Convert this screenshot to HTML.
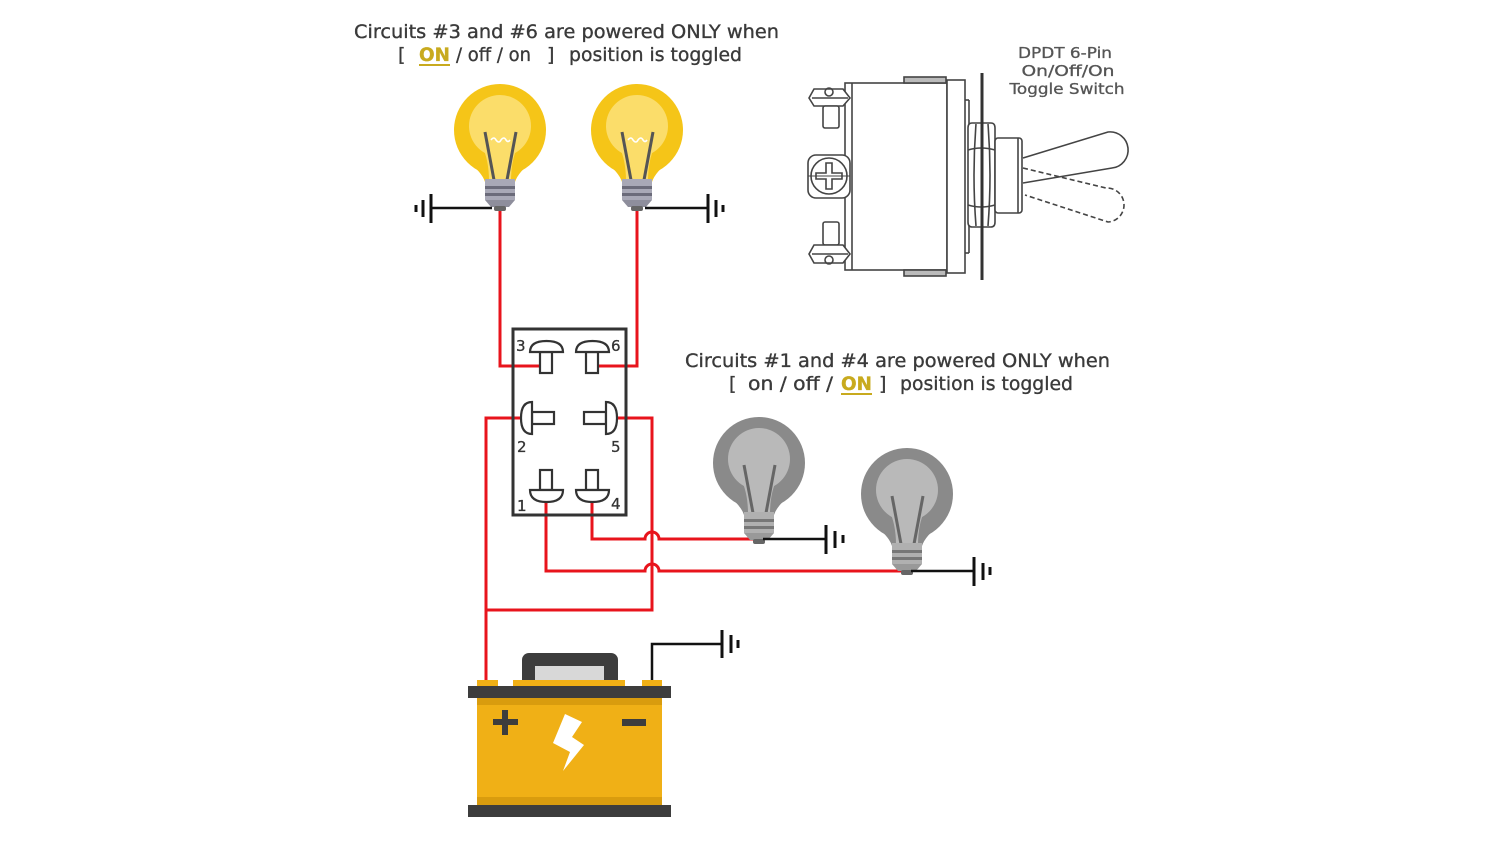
<!DOCTYPE html>
<html>
<head>
<meta charset="utf-8">
<style>
html,body{margin:0;padding:0;background:#fff;}
svg{display:block;}
text{font-family:"DejaVu Sans","Liberation Sans",sans-serif;}
</style>
</head>
<body>
<svg width="1508" height="855" viewBox="0 0 1508 855" xmlns="http://www.w3.org/2000/svg">
<rect width="1508" height="855" fill="#fff"/>

<!-- Top text -->
<g fill="#3a3a3a" stroke="#3a3a3a" stroke-width="0.35" font-size="19">
  <text x="354" y="38" textLength="425" lengthAdjust="spacingAndGlyphs">Circuits #3 and #6 are powered ONLY when</text>
  <text x="398" y="61">[</text>
  <text x="419" y="61" fill="#c8aa1e" stroke="#c8aa1e" font-weight="bold" textLength="31" lengthAdjust="spacingAndGlyphs">ON</text>
  <text x="456" y="61" textLength="75" lengthAdjust="spacingAndGlyphs">/ off / on</text>
  <text x="547" y="61">]</text>
  <text x="569" y="61" textLength="173" lengthAdjust="spacingAndGlyphs">position is toggled</text>
</g>
<line x1="419" y1="65" x2="450" y2="65" stroke="#c8aa1e" stroke-width="2"/>

<!-- Middle text -->
<g fill="#3a3a3a" stroke="#3a3a3a" stroke-width="0.35" font-size="19">
  <text x="685" y="367" textLength="425" lengthAdjust="spacingAndGlyphs">Circuits #1 and #4 are powered ONLY when</text>
  <text x="729" y="390">[</text>
  <text x="748" y="390" textLength="85" lengthAdjust="spacingAndGlyphs">on / off /</text>
  <text x="841" y="390" fill="#c8aa1e" stroke="#c8aa1e" font-weight="bold" textLength="31" lengthAdjust="spacingAndGlyphs">ON</text>
  <text x="879" y="390">]</text>
  <text x="900" y="390" textLength="173" lengthAdjust="spacingAndGlyphs">position is toggled</text>
</g>
<line x1="841" y1="394" x2="872" y2="394" stroke="#c8aa1e" stroke-width="2"/>

<!-- Switch label -->
<g fill="#555" stroke="#555" stroke-width="0.3" font-size="15" text-anchor="middle">
  <text x="1065" y="58" textLength="94" lengthAdjust="spacingAndGlyphs">DPDT 6-Pin</text>
  <text x="1068" y="76" textLength="93" lengthAdjust="spacingAndGlyphs">On/Off/On</text>
  <text x="1067" y="94" textLength="115" lengthAdjust="spacingAndGlyphs">Toggle Switch</text>
</g>

<!-- Toggle switch drawing -->
<g stroke="#444" stroke-width="1.6" fill="none">
  <rect x="845" y="83" width="102" height="187" fill="#fff"/>
  <line x1="852" y1="83" x2="852" y2="270"/>
  <rect x="904" y="77" width="42" height="6" fill="#bbb"/>
  <rect x="904" y="270" width="42" height="6" fill="#bbb"/>
  <rect x="947" y="80" width="18" height="193" fill="#fff"/>
  <line x1="965" y1="100" x2="969" y2="100"/>
  <line x1="969" y1="100" x2="969" y2="253"/>
  <line x1="965" y1="253" x2="969" y2="253"/>
  <!-- nut -->
  <path d="M972 123 H991 Q995 123 995 128 V222 Q995 227 991 227 H972 Q968 227 968 222 V128 Q968 123 972 123 Z" fill="#fff"/>
  <path d="M968 150 Q981 146 995 150"/>
  <path d="M968 205 Q981 209 995 205"/>
  <path d="M976 124 Q972 175 976 226"/>
  <path d="M988 124 Q992 175 988 226"/>
  <!-- panel -->
  <line x1="982" y1="73" x2="982" y2="280" stroke-width="3" stroke="#333"/>
  <!-- bushing -->
  <rect x="995" y="138" width="27" height="75" rx="3" fill="#fff"/>
  <line x1="1018" y1="138" x2="1018" y2="213"/>
  <!-- lever -->
  <path d="M1023 158 L1108 132 A18 18 0 0 1 1112 168 L1023 183"/>
  <path d="M1023 168 L1106 188 A17 17 0 0 1 1108 222 L1025 195" stroke-dasharray="5 3"/>
  <!-- top screw -->
  <path d="M809 98 L814 89 H843 L850 98 L843 106 H814 Z" fill="#fff"/>
  <circle cx="829" cy="92" r="4"/>
  <line x1="812" y1="98" x2="848" y2="98"/>
  <rect x="823" y="106" width="16" height="22" rx="2" fill="#fff"/>
  <!-- middle screw -->
  <rect x="808" y="155" width="42" height="43" rx="8" fill="#fff"/>
  <circle cx="829" cy="176" r="18"/>
  <path d="M826 163 H832 V173 H842 V179 H832 V189 H826 V179 H816 V173 H826 Z"/>
  <line x1="808" y1="176" x2="850" y2="176" stroke-width="1"/>
  <!-- bottom screw -->
  <rect x="823" y="222" width="16" height="23" rx="2" fill="#fff"/>
  <path d="M809 254 L814 245 H843 L850 254 L843 263 H814 Z" fill="#fff"/>
  <circle cx="829" cy="260" r="4"/>
  <line x1="812" y1="254" x2="848" y2="254"/>
</g>

<!-- Red wires -->
<g stroke="#e8141c" stroke-width="3" fill="none">
  <path d="M500 210 V366 H542"/>
  <path d="M637 210 V366 H596"/>
  <path d="M524 418 H486 V684"/>
  <path d="M612 418 H652 V610 H486"/>
  <path d="M592 497 V539 H645 A7 7 0 0 1 659 539 H756"/>
  <path d="M546 497 V571 H645 A7 7 0 0 1 659 571 H904"/>
</g>

<!-- Switch schematic box -->
<rect x="513" y="329" width="113" height="186" fill="none" stroke="#333" stroke-width="3"/>
<g stroke="#333" stroke-width="2.2" fill="#fff">
  <rect x="540" y="352" width="12" height="21"/>
  <path d="M530 352 Q530 341 546.5 341 Q563 341 563 352 Z"/>
  <rect x="586" y="352" width="12" height="21"/>
  <path d="M576 352 Q576 341 592.5 341 Q609 341 609 352 Z"/>
  <rect x="532" y="412" width="22" height="12"/>
  <path d="M532 402 Q521 402 521 418 Q521 434 532 434 Z"/>
  <rect x="584" y="412" width="22" height="12"/>
  <path d="M606 402 Q617 402 617 418 Q617 434 606 434 Z"/>
  <rect x="540" y="470" width="12" height="20"/>
  <path d="M530 490 H563 Q563 502 546.5 502 Q530 502 530 490 Z"/>
  <rect x="586" y="470" width="12" height="20"/>
  <path d="M576 490 H609 Q609 502 592.5 502 Q576 502 576 490 Z"/>
</g>
<g fill="#333" stroke="#333" stroke-width="0.3" font-size="15">
  <text x="516" y="351">3</text>
  <text x="611" y="351">6</text>
  <text x="517" y="452">2</text>
  <text x="611" y="452">5</text>
  <text x="517" y="511">1</text>
  <text x="611" y="509">4</text>
</g>

<!-- Yellow bulbs -->
<g>
  <circle cx="500" cy="130" r="46" fill="#f5c518"/>
  <path d="M466 160 Q482 172 485 182 H515 Q518 172 534 160 Z" fill="#f5c518"/>
  <circle cx="500" cy="126" r="31" fill="#fbdd6a"/>
  <path d="M482 146 Q489 160 489 181 H511 Q511 160 518 146 Z" fill="#fbdd6a"/>
  <line x1="485" y1="132" x2="494" y2="180" stroke="#555" stroke-width="3"/>
  <line x1="516" y1="132" x2="507" y2="180" stroke="#555" stroke-width="3"/>
  <path d="M491 140 q3 -4 5 0 q3 4 5 0 q3 -4 5 0 q2 3 4 0" stroke="#fff" stroke-width="1.6" fill="none"/>
  <rect x="485" y="179" width="30" height="21" fill="#a8a8b6"/>
  <rect x="485" y="186" width="30" height="3" fill="#6b6b7a"/>
  <rect x="485" y="193" width="30" height="3" fill="#6b6b7a"/>
  <polygon points="485,200 515,200 509,207 491,207" fill="#8e8e9c"/>
  <rect x="494" y="206" width="12" height="5" rx="2" fill="#666"/>
</g>
<g>
  <circle cx="637" cy="130" r="46" fill="#f5c518"/>
  <path d="M603 160 Q619 172 622 182 H652 Q655 172 671 160 Z" fill="#f5c518"/>
  <circle cx="637" cy="126" r="31" fill="#fbdd6a"/>
  <path d="M619 146 Q626 160 626 181 H648 Q648 160 655 146 Z" fill="#fbdd6a"/>
  <line x1="622" y1="132" x2="631" y2="180" stroke="#555" stroke-width="3"/>
  <line x1="653" y1="132" x2="644" y2="180" stroke="#555" stroke-width="3"/>
  <path d="M628 140 q3 -4 5 0 q3 4 5 0 q3 -4 5 0 q2 3 4 0" stroke="#fff" stroke-width="1.6" fill="none"/>
  <rect x="622" y="179" width="30" height="21" fill="#a8a8b6"/>
  <rect x="622" y="186" width="30" height="3" fill="#6b6b7a"/>
  <rect x="622" y="193" width="30" height="3" fill="#6b6b7a"/>
  <polygon points="622,200 652,200 646,207 628,207" fill="#8e8e9c"/>
  <rect x="631" y="206" width="12" height="5" rx="2" fill="#666"/>
</g>

<!-- Gray bulbs -->
<g>
  <circle cx="759" cy="463" r="46" fill="#8a8a8a"/>
  <path d="M725 493 Q741 505 744 515 H774 Q777 505 793 493 Z" fill="#8a8a8a"/>
  <circle cx="759" cy="459" r="31" fill="#b9b9b9"/>
  <path d="M741 479 Q748 493 748 514 H770 Q770 493 777 479 Z" fill="#b9b9b9"/>
  <line x1="744" y1="465" x2="753" y2="513" stroke="#666" stroke-width="3"/>
  <line x1="775" y1="465" x2="766" y2="513" stroke="#666" stroke-width="3"/>
  <rect x="744" y="512" width="30" height="21" fill="#b0b0b0"/>
  <rect x="744" y="519" width="30" height="3" fill="#777"/>
  <rect x="744" y="526" width="30" height="3" fill="#777"/>
  <polygon points="744,533 774,533 768,540 750,540" fill="#999"/>
  <rect x="753" y="539" width="12" height="5" rx="2" fill="#666"/>
</g>
<g>
  <circle cx="907" cy="494" r="46" fill="#8a8a8a"/>
  <path d="M873 524 Q889 536 892 546 H922 Q925 536 941 524 Z" fill="#8a8a8a"/>
  <circle cx="907" cy="490" r="31" fill="#b9b9b9"/>
  <path d="M889 510 Q896 524 896 545 H918 Q918 524 925 510 Z" fill="#b9b9b9"/>
  <line x1="892" y1="496" x2="901" y2="544" stroke="#666" stroke-width="3"/>
  <line x1="923" y1="496" x2="914" y2="544" stroke="#666" stroke-width="3"/>
  <rect x="892" y="543" width="30" height="21" fill="#b0b0b0"/>
  <rect x="892" y="550" width="30" height="3" fill="#777"/>
  <rect x="892" y="557" width="30" height="3" fill="#777"/>
  <polygon points="892,564 922,564 916,571 898,571" fill="#999"/>
  <rect x="901" y="570" width="12" height="5" rx="2" fill="#666"/>
</g>

<!-- Ground symbols -->
<g stroke="#111" fill="none">
  <line x1="431" y1="208" x2="492" y2="208" stroke-width="2.5"/>
  <line x1="431" y1="194" x2="431" y2="223" stroke-width="3"/>
  <line x1="423" y1="200" x2="423" y2="217" stroke-width="3"/>
  <line x1="416" y1="205" x2="416" y2="212" stroke-width="3"/>
  <line x1="645" y1="208" x2="708" y2="208" stroke-width="2.5"/>
  <line x1="708" y1="194" x2="708" y2="223" stroke-width="3"/>
  <line x1="716" y1="200" x2="716" y2="217" stroke-width="3"/>
  <line x1="723" y1="205" x2="723" y2="212" stroke-width="3"/>
  <line x1="763" y1="539" x2="826" y2="539" stroke-width="2.5"/>
  <line x1="826" y1="525" x2="826" y2="554" stroke-width="3"/>
  <line x1="835" y1="531" x2="835" y2="548" stroke-width="3"/>
  <line x1="843" y1="535" x2="843" y2="543" stroke-width="3"/>
  <line x1="911" y1="571" x2="974" y2="571" stroke-width="2.5"/>
  <line x1="974" y1="557" x2="974" y2="586" stroke-width="3"/>
  <line x1="983" y1="563" x2="983" y2="580" stroke-width="3"/>
  <line x1="990" y1="567" x2="990" y2="575" stroke-width="3"/>
  <path d="M652 683 V644 H722" stroke-width="2.5"/>
  <line x1="722" y1="630" x2="722" y2="658" stroke-width="3"/>
  <line x1="731" y1="635" x2="731" y2="653" stroke-width="3"/>
  <line x1="738" y1="640" x2="738" y2="648" stroke-width="3"/>
</g>

<!-- Battery -->
<g>
  <rect x="522" y="653" width="96" height="34" rx="7" fill="#3d3d3d"/>
  <rect x="535" y="666" width="69" height="16" fill="#d8d8d8"/>
  <rect x="513" y="680" width="112" height="7" fill="#f0b016"/>
  <rect x="477" y="680" width="21" height="7" fill="#f0b016"/>
  <rect x="642" y="680" width="20" height="7" fill="#f0b016"/>
  <rect x="468" y="686" width="203" height="12" fill="#3d3d3d"/>
  <rect x="477" y="698" width="185" height="107" fill="#f0b016"/>
  <rect x="477" y="698" width="185" height="7" fill="#d99c0e"/>
  <rect x="477" y="797" width="185" height="8" fill="#d99c0e"/>
  <rect x="468" y="805" width="203" height="12" fill="#3d3d3d"/>
  <rect x="493" y="719" width="25" height="6" fill="#3d3d3d"/>
  <rect x="502" y="710" width="6" height="25" fill="#3d3d3d"/>
  <rect x="622" y="719" width="24" height="7" fill="#3d3d3d"/>
  <polygon points="565,714 582,722 572,737 584,745 563,771 570,752 553,743" fill="#fff"/>
</g>
</svg>
</body>
</html>
